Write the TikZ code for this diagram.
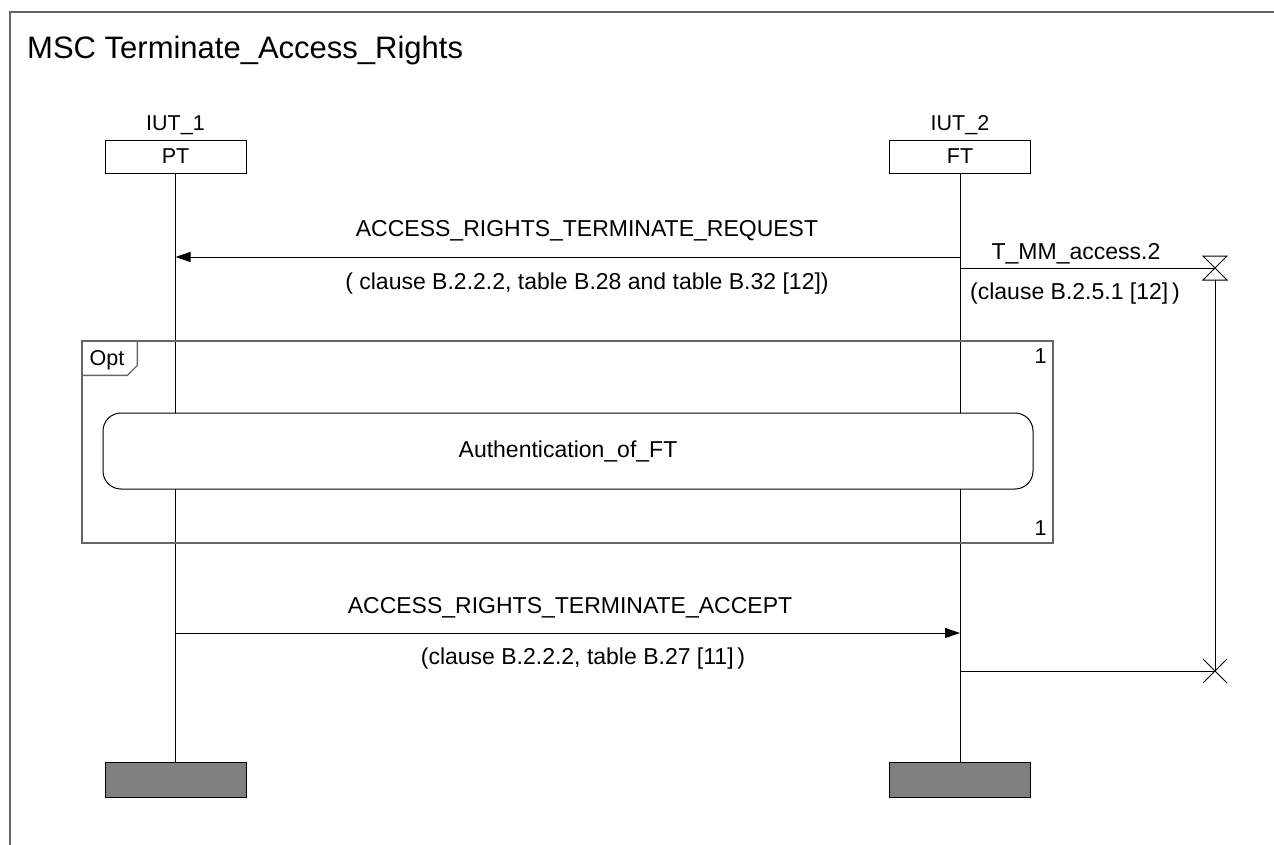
\documentclass[tikz,border=0pt]{standalone}
\usepackage{fontspec}
\setmainfont{Liberation Sans}
\usetikzlibrary{arrows.meta,positioning,calc}

\begin{document}
\begin{tikzpicture}[
  x=1pt, y=-1pt,
  node distance = 2pt,
  inst/.style  = {rectangle, draw, line width=1pt, minimum width=141pt,
                  minimum height=33pt, inner sep=0pt,
                  font=\fontsize{21.5}{24}\selectfont},
  endbox/.style = {rectangle, draw, line width=1pt, fill=black!50,
                  minimum width=141pt, minimum height=35pt, inner sep=0pt},
  ref/.style   = {rectangle, draw, line width=1pt, fill=white,
                  rounded corners=18pt, minimum width=930pt,
                  minimum height=76pt, font=\fontsize{23}{26}\selectfont},
  lbl/.style   = {inner sep=0pt, font=\fontsize{23}{26}\selectfont},
  ilbl/.style  = {inner sep=0pt, font=\fontsize{21.5}{24}\selectfont},
  life/.style  = {line width=1pt},
  arr/.style   = {-{Triangle[length=15pt,width=10pt]}, line width=1pt},
  frm/.style   = {draw=black!60, line width=1.3pt}
]
\useasboundingbox (0,0) rectangle (1274,844);
\clip (0,0) rectangle (1274,844);
% outer frame
\draw[frm] (10,900) |- (1300,12);
\node[anchor=west, inner sep=0pt, font=\fontsize{31}{34}\selectfont] (title) at (27,50)
  {MSC Terminate\_Access\_Rights};

% instances
\node[inst] (pt) at (175.5,156.5) {PT};
\node[inst] (ft) at (960,156.5) {FT};
\node[ilbl, above=5pt of pt] (iut1) {IUT\_1};
\node[ilbl, above=5pt of ft] (iut2) {IUT\_2};
\node[endbox] (pte) at (175.5,779.5) {};
\node[endbox] (fte) at (960,779.5) {};
\draw[life] (pt) -- (pte);
\draw[life] (ft) -- (fte);

% request
\coordinate (req1) at (960,257);
\coordinate (req2) at (175.5,257);
\draw[arr] (req1) -- (req2);
\node[lbl] (reqa) at (587,231) {ACCESS\_RIGHTS\_TERMINATE\_REQUEST};
\node[lbl] (reqb) at (587,284) {(\ clause B.2.2.2, table B.28 and table B.32 [12])};

% timer
\coordinate (tmr1) at (960,268);
\coordinate (tmr) at (1215,268);
\draw[life] (tmr1) -- (tmr);
\draw[life] ($(tmr)+(-12,-12)$) -- ($(tmr)+(12,-12)$) -- ($(tmr)+(-12,12)$)
  -- ($(tmr)+(12,12)$) -- cycle;
\node[lbl] (tmra) at (1076,254) {T\_MM\_access.2};
\node[lbl] (tmrb) at (1075,294) {(clause B.2.5.1 [12]\,)};
\coordinate (tmx) at (1215,671);
\coordinate (tmx1) at (960,671);
\draw[life] ($(tmr)+(0,12)$) -- (tmx);
\draw[life] (tmx1) -- (tmx);
\draw[life] ($(tmx)+(-12,-12)$) -- ($(tmx)+(12,12)$);
\draw[life] ($(tmx)+(-12,12)$) -- ($(tmx)+(12,-12)$);

% opt inline
\node[frm, rectangle, minimum width=971pt, minimum height=202pt, inner sep=0pt] (opt) at (567.5,442) {};
\draw[frm] ($(opt.north west)+(0,35)$) -- ++(46,0) -- ++(10,-10) -- ++(0,-25);
\node[ilbl] (optl) at (107,360) {Opt};
\node[ilbl, anchor=north east] (opt1) at ($(opt.north east)+(-7,8)$) {1};
\node[ilbl, anchor=south east] (opt2) at ($(opt.south east)+(-7,-8)$) {1};
\node[ref] (auth) at (568,451) {Authentication\_of\_FT};

% accept
\coordinate (acc1) at (175.5,633);
\coordinate (acc2) at (960,633);
\draw[arr] (acc1) -- (acc2);
\node[lbl] (acca) at (570,608) {ACCESS\_RIGHTS\_TERMINATE\_ACCEPT};
\node[lbl] (accb) at (583,659) {(clause B.2.2.2, table B.27 [11]\,)};
\end{tikzpicture}
\end{document}
